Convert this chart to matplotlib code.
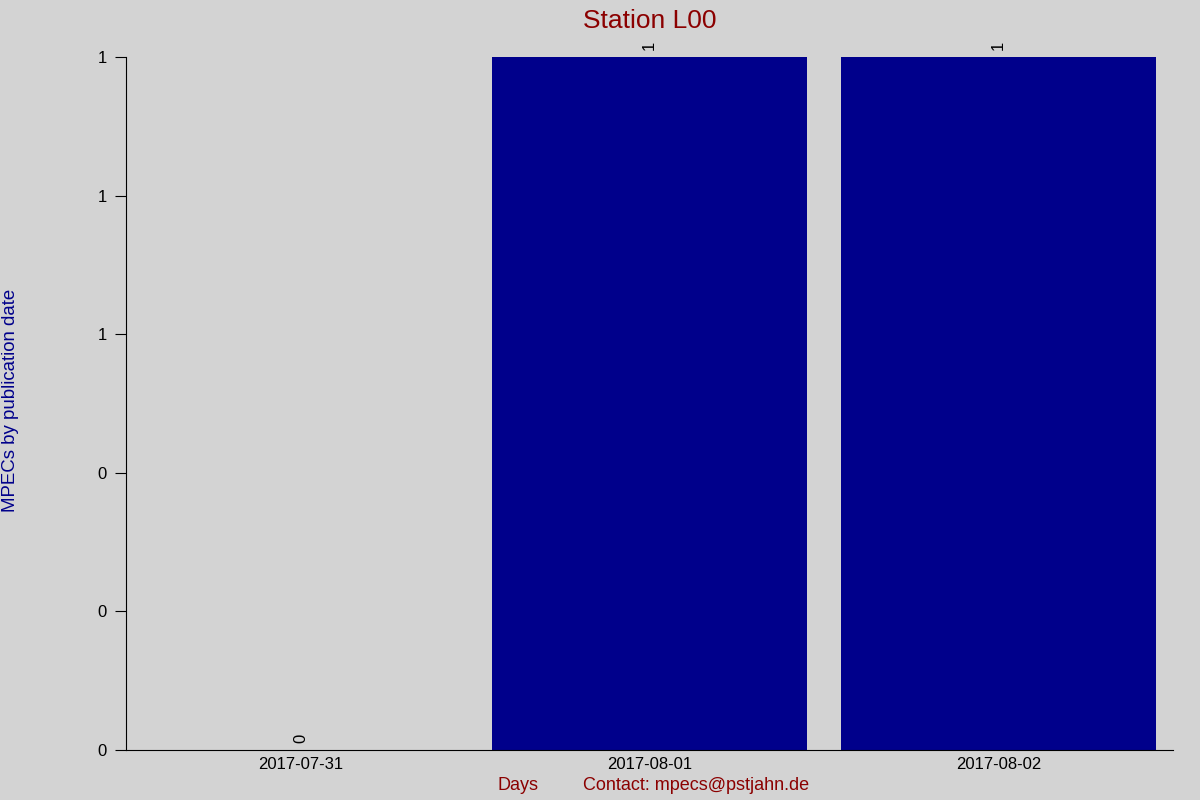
import matplotlib.pyplot as plt

plt.rcParams['font.family'] = ['Liberation Sans', 'DejaVu Sans']

days = ['2017-07-31', '2017-08-01', '2017-08-02']
counts = [0, 1, 1]
y_ticks = [0, 0.2, 0.4, 0.6, 0.8, 1.0]

fig = plt.figure(figsize=(12, 8), dpi=100, facecolor='#d3d3d3')
ax = fig.add_axes([0.105, 0.0625, 0.8725, 0.86625])
ax.set_facecolor('#d3d3d3')

x = range(len(days))
bars = ax.bar(x, counts, width=0.9, color='#00008b')
# value labels on top of each bar, rotated like the original
for b, v in zip(bars, counts):
    ax.annotate(str(v), (b.get_x() + b.get_width() / 2, v),
                xytext=(0, 5), textcoords='offset points',
                ha='center', va='bottom', rotation=90, fontsize=12)

ax.set_xlim(-0.5, len(days) - 0.5)
ax.set_ylim(0, 1)
ax.set_xticks(list(x))
ax.set_xticklabels(days, fontsize=12)
ax.set_yticks(y_ticks)
ax.set_yticklabels(['%.0f' % t for t in y_ticks], fontsize=12)
ax.tick_params(axis='x', length=0, pad=5)
ax.tick_params(axis='y', length=8, direction='out', pad=6)

for s in ['top', 'right']:
    ax.spines[s].set_visible(False)

ax.set_title('Station L00', color='#8b0000', fontsize=19, pad=21)
fig.text(0.009, 0.5, 'MPECs by publication date', rotation=90,
         color='#00008b', fontsize=13.4, ha='center', va='center')
fig.text(0.432, 0.0175, 'Days', color='#8b0000', fontsize=13, ha='center', va='center')
fig.text(0.58, 0.0175, 'Contact: mpecs@pstjahn.de', color='#8b0000', fontsize=13,
         ha='center', va='center')

fig.savefig('out.png', dpi=100, facecolor=fig.get_facecolor())
